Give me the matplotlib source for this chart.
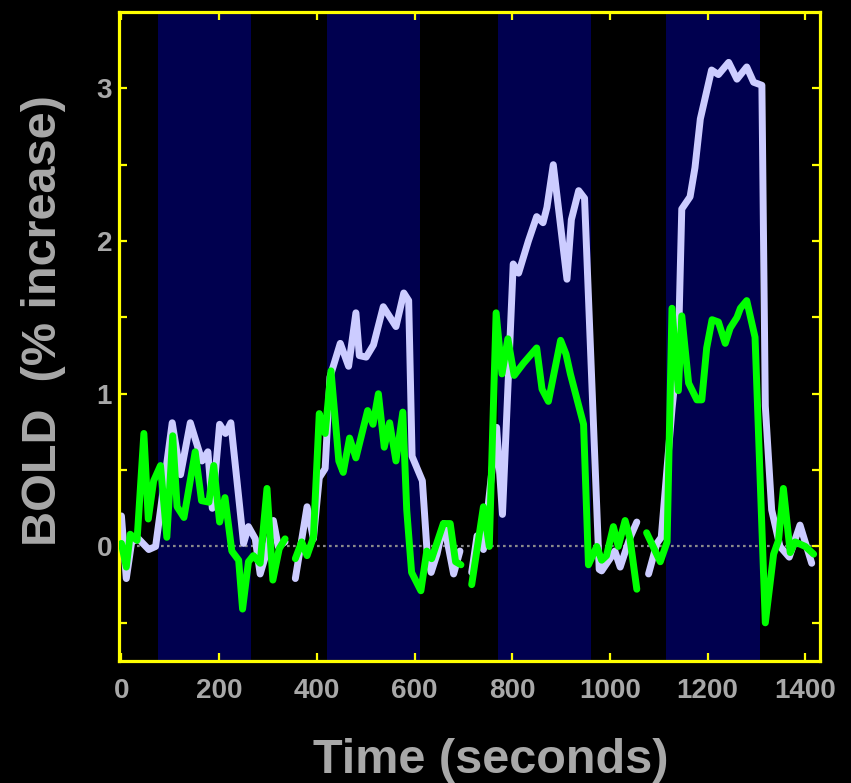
import numpy as np
import matplotlib
matplotlib.use('Agg')
import matplotlib.pyplot as plt

# time course of two regions, runs separated by gaps (nan)
nan = np.nan
t_lav = [0, 10, 21, 35, 56, 70, 104, 121, 141, 165, 177, 186, 201, 213, 224, 250, 260, 274, 284, 298, 311, 321, 335,
         345,
         356, 380, 393, 405, 417, 427, 448, 465, 480, 487, 501, 516, 536, 562, 578, 588, 595, 616, 626, 634, 646, 660, 680, 693,
         705,
         717, 728, 741, 768, 780, 802, 813, 833, 850, 863, 871, 884, 912, 921, 936, 948, 978, 983, 1000, 1010, 1021, 1040, 1055,
         1067,
         1079, 1096, 1105, 1127, 1140, 1147, 1164, 1174, 1185, 1208, 1222, 1243, 1260, 1280, 1294, 1311, 1318, 1331, 1348, 1367, 1389, 1413]
v_lav = [0.20, -0.21, 0.03, 0.05, -0.02, 0.0, 0.81, 0.47, 0.81, 0.56, 0.62, 0.25, 0.80, 0.74, 0.81, 0.02, 0.13, 0.05, -0.18, -0.03, 0.17, 0.0, 0.03,
         nan,
         -0.21, 0.26, 0.05, 0.45, 0.51, 1.11, 1.33, 1.18, 1.53, 1.25, 1.24, 1.32, 1.57, 1.44, 1.66, 1.61, 0.59, 0.43, -0.05, -0.17, -0.05, 0.15, -0.18, -0.03,
         nan,
         -0.17, 0.07, -0.02, 0.78, 0.21, 1.85, 1.79, 2.0, 2.16, 2.12, 2.22, 2.50, 1.75, 2.14, 2.33, 2.28, -0.15, -0.16, -0.08, -0.03, -0.135, 0.05, 0.16,
         nan,
         -0.18, 0.02, 0.06, 0.9, 1.3, 2.21, 2.29, 2.48, 2.80, 3.12, 3.09, 3.17, 3.06, 3.14, 3.04, 3.02, 0.92, 0.24, 0.0, -0.07, 0.14, -0.11]

t_grn = [0, 10, 18, 32, 46, 55, 66, 80, 93, 105, 114, 128, 151, 164, 179, 189, 201, 212, 226, 240, 248, 260, 270, 284, 298, 310, 323, 335,
         345,
         356, 369, 380, 393, 405, 417, 429, 445, 454, 467, 480, 504, 515, 526, 538, 549, 562, 576, 584, 594, 613, 625, 635, 659, 673, 684, 695,
         705,
         717, 741, 753, 767, 779, 791, 804, 823, 850, 861, 874, 899, 910, 919, 946, 956, 973, 983, 993, 1007, 1017, 1031, 1041, 1055,
         1065,
         1075, 1103, 1117, 1127, 1140, 1147, 1161, 1178, 1188, 1198, 1209, 1222, 1236, 1246, 1260, 1267, 1280, 1297, 1318, 1335, 1345, 1355, 1369, 1379, 1400, 1417]
v_grn = [0.02, -0.135, 0.08, 0.04, 0.74, 0.18, 0.43, 0.53, 0.06, 0.725, 0.26, 0.19, 0.62, 0.30, 0.29, 0.53, 0.16, 0.32, -0.03, -0.09, -0.41, -0.10, -0.06, -0.11, 0.38, -0.22, -0.015, 0.05,
         nan,
         -0.08, 0.03, -0.06, 0.06, 0.87, 0.74, 1.15, 0.56, 0.485, 0.71, 0.58, 0.89, 0.80, 1.0, 0.65, 0.81, 0.56, 0.88, 0.24, -0.17, -0.29, -0.03, -0.08, 0.15, 0.15, -0.10, -0.12,
         nan,
         -0.25, 0.26, 0.0, 1.53, 1.13, 1.36, 1.12, 1.20, 1.30, 1.03, 0.95, 1.35, 1.26, 1.13, 0.80, -0.12, 0.0, -0.09, -0.06, 0.13, 0.0, 0.17, 0.05, -0.28,
         nan,
         0.09, -0.10, 0.03, 1.56, 1.02, 1.51, 1.07, 0.96, 0.96, 1.30, 1.485, 1.47, 1.33, 1.43, 1.50, 1.56, 1.61, 1.37, -0.50, -0.05, 0.04, 0.38, -0.04, 0.03, 0.0, -0.05]

# stimulus blocks (seconds)
block_on = [74, 420, 770, 1115]
block_off = [266, 612, 962, 1307]

grey = '#a8a8a8'
plt.rcParams['font.family'] = ['Liberation Sans', 'DejaVu Sans']
plt.rcParams['font.weight'] = 'bold'

fig = plt.figure(figsize=(8.51, 7.83), dpi=100, facecolor='black')
ax = fig.add_axes([0.1398, 0.1558, 0.8238, 0.8289], facecolor='black')

for a, b in zip(block_on, block_off):
    ax.axvspan(a, b, color='#00004f', lw=0, zorder=0)

ax.axhline(0, color='#8a8a8a', lw=1.6, ls=(0, (1.2, 1.5)), zorder=1)
ax.plot(t_lav, v_lav, color='#ccccff', lw=5, zorder=2, solid_joinstyle='round', solid_capstyle='round')
ax.plot(t_grn, v_grn, color='#00ff00', lw=5, zorder=3, solid_joinstyle='round', solid_capstyle='round')

ax.set_xlim(-5, 1430)
ax.set_ylim(-0.75, 3.5)
ax.set_xticks(np.arange(0, 1401, 200))
ax.set_yticks([0, 1, 2, 3])
ax.set_yticks([-0.5, 0.5, 1.5, 2.5], minor=True)

for s in ax.spines.values():
    s.set_color('yellow')
    s.set_linewidth(2.3)
ax.tick_params(which='both', direction='in', color='yellow', width=1.6, length=6,
               top=True, right=True, labelcolor=grey, labelsize=20)
ax.tick_params(axis='x', pad=12)
ax.tick_params(axis='y', pad=5)

ax.set_xlabel('Time (seconds)', color=grey, fontsize=35, fontweight='bold')
ax.set_ylabel('BOLD  (% increase)', color=grey, fontsize=35, fontweight='bold')
ax.xaxis.set_label_coords(0.531, -0.119)
ax.yaxis.set_label_coords(-0.076, 0.525)

fig.savefig('out.png', dpi=100, facecolor='black')
